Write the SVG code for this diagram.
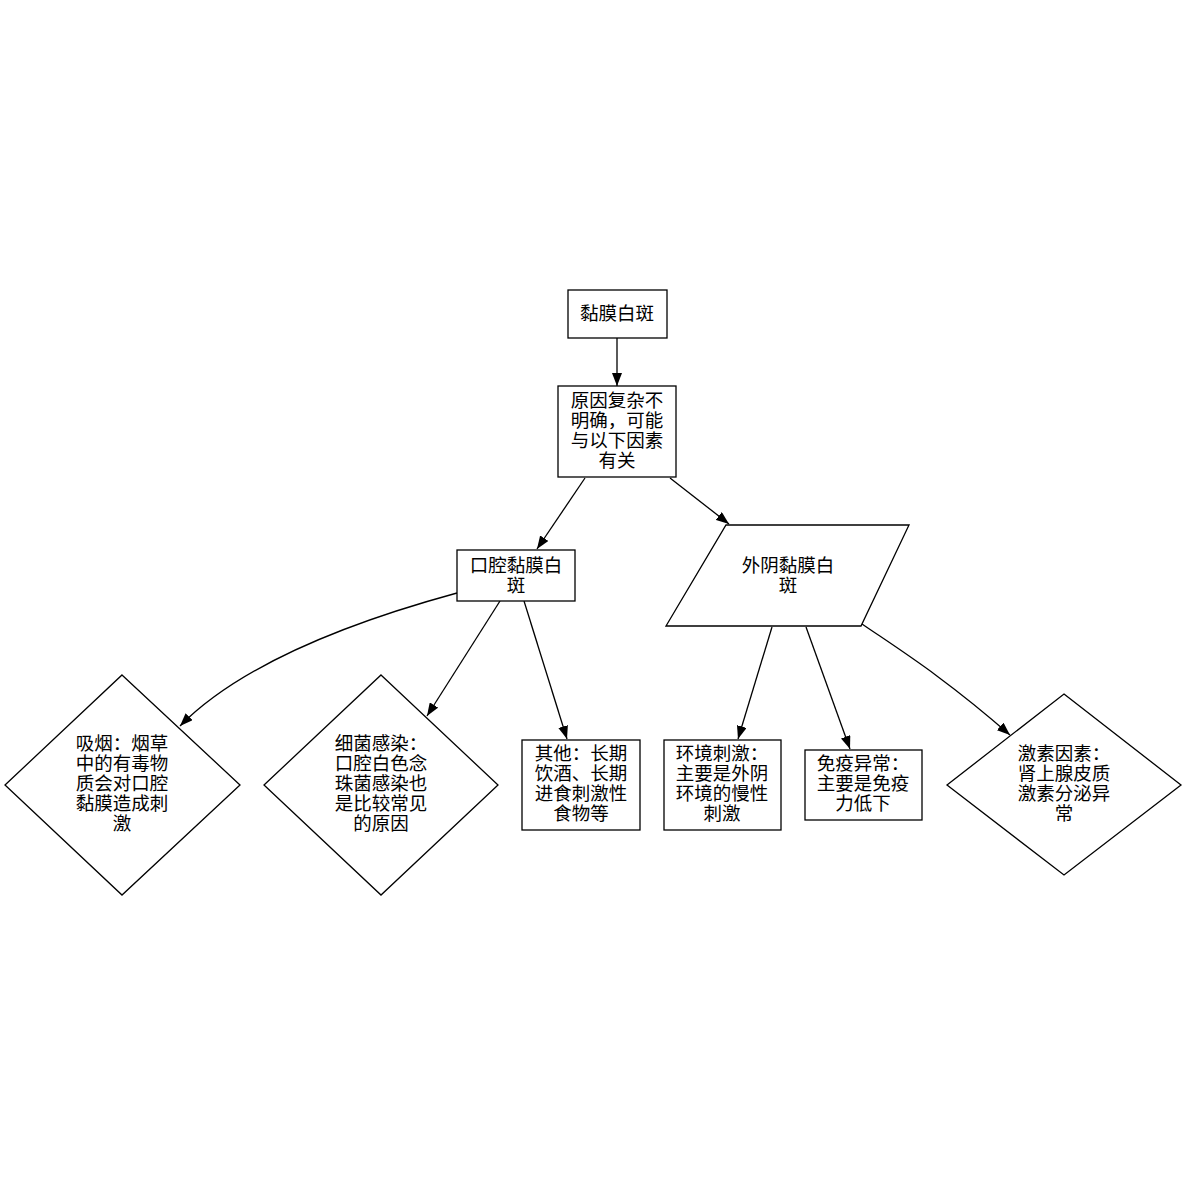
<svg xmlns="http://www.w3.org/2000/svg" width="1187" height="1187" viewBox="0 0 1187 1187">
<style>
.s{fill:#fff;stroke:#000;stroke-width:1.3}
.e{fill:none;stroke:#000;stroke-width:1.3}
text{font-family:"Liberation Sans","Noto Sans CJK SC",sans-serif;font-size:18.5px;text-anchor:middle;dominant-baseline:central;fill:#000}
</style>
<defs>
<marker id="a" viewBox="0 0 13 10" refX="13" refY="5" markerWidth="13" markerHeight="10" markerUnits="userSpaceOnUse" orient="auto">
<path d="M0,0 L13,5 L0,10 Z" fill="#000"/>
</marker>
</defs>
<rect width="1187" height="1187" fill="#fff"/>
<g id="connectors">
<path class="e" d="M617,338 L617,386" marker-end="url(#a)"/>
<path class="e" d="M585,478 L537,549" marker-end="url(#a)"/>
<path class="e" d="M670,478 L729,524" marker-end="url(#a)"/>
<path class="e" d="M457,593 C380,614 250,655 180,726" marker-end="url(#a)"/>
<path class="e" d="M500,601 L427,716" marker-end="url(#a)"/>
<path class="e" d="M524,601 L567,739" marker-end="url(#a)"/>
<path class="e" d="M772,627 L738,739" marker-end="url(#a)"/>
<path class="e" d="M806,627 L850,749" marker-end="url(#a)"/>
<path class="e" d="M862,624 C900,650 945,678 1010,735" marker-end="url(#a)"/>
</g>
<g id="n1"><rect class="s" x="568" y="290" width="99" height="48"/><text x="617" y="313">黏膜白斑</text></g>
<g id="n2"><rect class="s" x="558" y="386" width="118" height="91"/>
<text x="617" y="400">原因复杂不</text><text x="617" y="420">明确，可能</text><text x="617" y="440">与以下因素</text><text x="617" y="460">有关</text></g>
<g id="n3"><rect class="s" x="457" y="550" width="118" height="51"/><text x="516" y="565">口腔黏膜白</text><text x="516" y="585">斑</text></g>
<g id="n4"><polygon class="s" points="726,525 909,525 861,626 666,626"/><text x="788" y="565">外阴黏膜白</text><text x="788" y="585">斑</text></g>
<g id="n5"><polygon class="s" points="122,675 240,785 122,895 5,785"/>
<text x="122" y="743">吸烟：烟草</text><text x="122" y="763">中的有毒物</text><text x="122" y="783">质会对口腔</text><text x="122" y="803">黏膜造成刺</text><text x="122" y="823">激</text></g>
<g id="n6"><polygon class="s" points="381,675 498,785 381,895 264,785"/>
<text x="381" y="743">细菌感染：</text><text x="381" y="763">口腔白色念</text><text x="381" y="783">珠菌感染也</text><text x="381" y="803">是比较常见</text><text x="381" y="823">的原因</text></g>
<g id="n7"><rect class="s" x="522" y="740" width="118" height="90"/>
<text x="581" y="753">其他：长期</text><text x="581" y="773">饮酒、长期</text><text x="581" y="793">进食刺激性</text><text x="581" y="813">食物等</text></g>
<g id="n8"><rect class="s" x="664" y="740" width="117" height="90"/>
<text x="722" y="753">环境刺激：</text><text x="722" y="773">主要是外阴</text><text x="722" y="793">环境的慢性</text><text x="722" y="813">刺激</text></g>
<g id="n9"><rect class="s" x="805" y="750" width="117" height="70"/>
<text x="863" y="763">免疫异常：</text><text x="863" y="783">主要是免疫</text><text x="863" y="803">力低下</text></g>
<g id="n10"><polygon class="s" points="1064,694 1181,785 1064,875 947,785"/>
<text x="1064" y="753">激素因素：</text><text x="1064" y="773">肾上腺皮质</text><text x="1064" y="793">激素分泌异</text><text x="1064" y="813">常</text></g>
</svg>
